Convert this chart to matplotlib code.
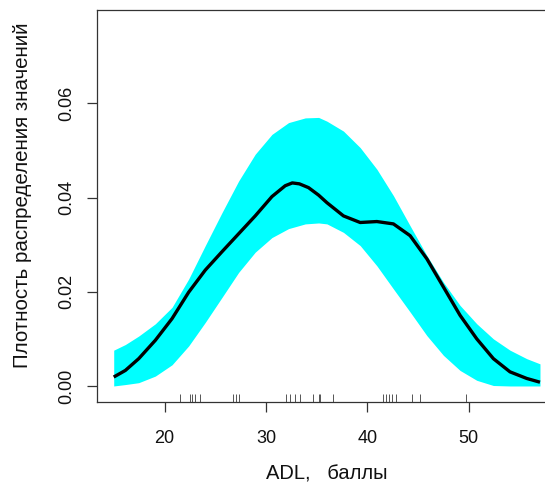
import matplotlib
matplotlib.use("Agg")
import matplotlib.pyplot as plt

plt.rcParams['font.family'] = ['Liberation Sans', 'DejaVu Sans']

# Density estimate (black curve)
curve_x = [14.97, 16.12, 17.44, 19.08, 20.73, 22.37, 24.01, 25.66, 27.30, 28.94,
           30.59, 31.90, 32.60, 33.30, 34.20, 35.20, 36.02, 37.65, 39.30, 40.95,
           42.58, 44.23, 45.88, 47.52, 49.16, 50.81, 52.45, 54.09, 55.74, 57.05]
curve_y = [0.0019, 0.0033, 0.0058, 0.0097, 0.0143, 0.0199, 0.0246, 0.0285, 0.0323,
           0.0361, 0.0402, 0.0425, 0.0431, 0.0429, 0.0421, 0.0405, 0.0389, 0.0361,
           0.0347, 0.0349, 0.0344, 0.0319, 0.0270, 0.0210, 0.0150, 0.0100, 0.0058,
           0.0030, 0.0016, 0.0008]

# Reference band (cyan)
band_x = [14.97, 16.12, 17.44, 19.08, 20.73, 22.37, 24.01, 25.66, 27.30, 28.94,
          30.59, 32.23, 33.88, 35.20, 36.02, 37.65, 39.30, 40.95, 42.58, 44.23,
          45.88, 47.52, 49.16, 50.81, 52.45, 54.09, 55.74, 57.05]
band_upper = [0.0076, 0.0088, 0.0106, 0.0132, 0.0167, 0.0227, 0.0298, 0.0368,
              0.0435, 0.0492, 0.0534, 0.0559, 0.0569, 0.0570, 0.0562, 0.0541,
              0.0506, 0.0460, 0.0404, 0.0340, 0.0277, 0.0220, 0.0171, 0.0132,
              0.0100, 0.0076, 0.0058, 0.0047]
band_lower = [0.0, 0.0003, 0.0007, 0.0021, 0.0045, 0.0085, 0.0135, 0.0188, 0.0241,
              0.0284, 0.0315, 0.0334, 0.0344, 0.0346, 0.0344, 0.0326, 0.0298,
              0.0255, 0.0206, 0.0157, 0.0107, 0.0065, 0.0033, 0.0012, 0.0001,
              0.0, 0.0, 0.0]

# Observations (rug)
rug_x = [21.55, 22.47, 22.70, 23.03, 23.52, 26.75, 27.00, 27.30, 32.00, 32.40,
         32.89, 33.38, 34.60, 35.19, 35.36, 36.61, 41.60, 41.86, 42.16, 42.49,
         42.82, 44.40, 45.22, 49.72]

x_ticks = [20, 30, 40, 50]
y_ticks = [0.00, 0.02, 0.04, 0.06]
y_ticklabels = ["0.00", "0.02", "0.04", "0.06"]

fig = plt.figure(figsize=(5.45, 4.90), dpi=100)
ax = fig.add_axes([97 / 545, (490 - 402) / 490, (557 - 97) / 545, (402 - 10) / 490])

ax.fill_between(band_x, band_lower, band_upper, color='#00FFFF', linewidth=0)
ax.plot(curve_x, curve_y, color='black', linewidth=2.4, solid_capstyle='butt',
        solid_joinstyle='round')

ymin = -0.0034
ax.vlines(rug_x, ymin, ymin + 0.0018, color='#555555', linewidth=0.7)

ax.set_xlim(13.32, 58.73)
ax.set_ylim(ymin, 0.0798)

ax.set_xticks(x_ticks)
ax.set_yticks(y_ticks)
ax.set_yticklabels(y_ticklabels, rotation=90, va='center')

for s in ax.spines.values():
    s.set_color('#333333')
    s.set_linewidth(0.9)

ax.tick_params(axis='both', direction='out', length=7.5, width=0.9, color='#333333',
               labelsize=13, labelcolor='#111111')
ax.tick_params(axis='x', pad=13)
ax.tick_params(axis='y', pad=8)

ax.set_xlabel("ADL,   баллы", fontsize=14.5, color='#111111', labelpad=12)
ax.set_ylabel("Плотность распределения значений", fontsize=14.8, color='#111111')
ax.yaxis.set_label_coords(-0.163, 0.528)
ax.yaxis.label.set_va('center')

fig.savefig("out.png", dpi=100)
